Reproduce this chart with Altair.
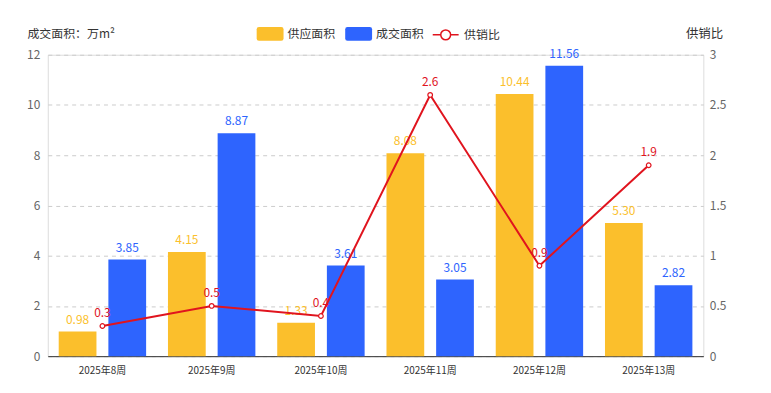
import altair as alt
import pandas as pd

weeks = ["2025年8周", "2025年9周", "2025年10周", "2025年11周", "2025年12周", "2025年13周"]
supply = [0.98, 4.15, 1.33, 8.08, 10.44, 5.30]
deal = [3.85, 8.87, 3.61, 3.05, 11.56, 2.82]
ratio = [0.3, 0.5, 0.4, 2.6, 0.9, 1.9]
bar_series = ["供应面积", "成交面积"]
line_series = ["供销比"]
bar_colors = ["#FBBF2C", "#2E64FE"]
line_color = "#E0141E"

FONT = "Noto Sans CJK SC"

bars_df = pd.DataFrame({
    "week": weeks * 2,
    "series": [bar_series[0]] * len(weeks) + [bar_series[1]] * len(weeks),
    "value": supply + deal,
})
bars_df["label"] = bars_df["value"].map(lambda v: f"{v:.2f}")
line_df = pd.DataFrame({
    "week": weeks,
    "series": line_series[0],
    "ratio": ratio,
    "label": [str(r) for r in ratio],
})

LINE_PATH = ("M-1.86,0L-0.71,0M0.71,0L1.86,0M0.71,0A0.71,0.71 0 1,1 -0.71,0"
             "A0.71,0.71 0 1,1 0.71,0Z")
RECT_PATH = ("M-1.6,-1L1.6,-1Q1.93,-1 1.93,-0.67L1.93,0.67Q1.93,1 1.6,1"
             "L-1.6,1Q-1.93,1 -1.93,0.67L-1.93,-0.67Q-1.93,-1 -1.6,-1Z")

common_legend = dict(
    title=None, orient="none", direction="horizontal", legendY=-28,
    symbolSize=196, labelOffset=10.5, columnPadding=9,
    labelFont=FONT, labelFontSize=12, labelColor="#333333",
)

fill_enc = alt.Fill(
    "series:N", scale=alt.Scale(domain=bar_series, range=bar_colors),
    legend=alt.Legend(legendX=216.5, symbolType=RECT_PATH, symbolStrokeWidth=0,
                      symbolOpacity=1, **common_legend),
)
stroke_enc = alt.Stroke(
    "series:N", scale=alt.Scale(domain=line_series, range=[line_color]),
    legend=alt.Legend(legendX=392, symbolType=LINE_PATH, symbolFillColor="white",
                      symbolStrokeWidth=1.5, symbolOpacity=1, **common_legend),
)

x_enc = alt.X(
    "week:N", sort=weeks, title=None,
    scale=alt.Scale(paddingInner=0, paddingOuter=0),
    axis=alt.Axis(labelAngle=0, ticks=False, domainColor="#333333", labelColor="#333333",
                  labelFont=FONT, labelFontSize=10, labelPadding=9, grid=False),
)
xoff = alt.XOffset("series:N", sort=bar_series,
                   scale=alt.Scale(paddingInner=0.24, paddingOuter=0.22))

y_left = alt.Y(
    "value:Q", title="成交面积：万m²",
    scale=alt.Scale(domain=[0, 12]),
    axis=alt.Axis(values=[0, 2, 4, 6, 8, 10, 12], domain=False, ticks=False,
                  labelColor="#666666", labelFont=FONT, labelFontSize=12, labelPadding=8,
                  grid=True, gridDash=[4, 4], gridColor="#cccccc",
                  titleAngle=0, titleX=-21, titleY=-21, titleAlign="left", titleBaseline="middle",
                  titleFont=FONT, titleFontSize=12, titleFontWeight="normal", titleColor="#333333"),
)

bar_base = alt.Chart(bars_df).encode(x=x_enc, xOffset=xoff, y=y_left, fill=fill_enc)
bars = bar_base.mark_bar()
bar_text = bar_base.mark_text(baseline="bottom", dy=-5, font=FONT, fontSize=12).encode(text="label:N")

y_right = alt.Y(
    "ratio:Q", title="供销比",
    scale=alt.Scale(domain=[0, 3]),
    axis=alt.Axis(orient="right", values=[0, 0.5, 1, 1.5, 2, 2.5, 3], format=".1~f",
                  domain=False, ticks=False,
                  grid=False, labelColor="#666666", labelFont=FONT, labelFontSize=12, labelPadding=6,
                  titleAngle=0, titleX=-18, titleY=-21, titleAlign="left", titleBaseline="middle",
                  titleFont=FONT, titleFontSize=12.5, titleFontWeight="normal", titleColor="#333333"),
)

line_base = alt.Chart(line_df).encode(x=alt.X("week:N", sort=weeks), y=y_right)
line = line_base.mark_line(
    strokeWidth=2,
    point=alt.OverlayMarkDef(filled=False, fill="white", size=22, strokeWidth=1.2),
).encode(stroke=stroke_enc)
line_text = line_base.mark_text(baseline="bottom", dy=-6, font=FONT, fontSize=12,
                                color=line_color).encode(text="label:N")

chart = (
    alt.layer(alt.layer(bars, bar_text), alt.layer(line, line_text))
    .resolve_scale(y="independent")
    .properties(
        width=659, height=303,
        autosize=alt.AutoSizeParams(type="none"),
        padding={"left": 40, "top": 46, "right": 60, "bottom": 30},
    )
    .configure_view(stroke=None)
    .configure(font=FONT)
)

chart.save("out.html", embed_options={"renderer": "svg", "actions": False})
